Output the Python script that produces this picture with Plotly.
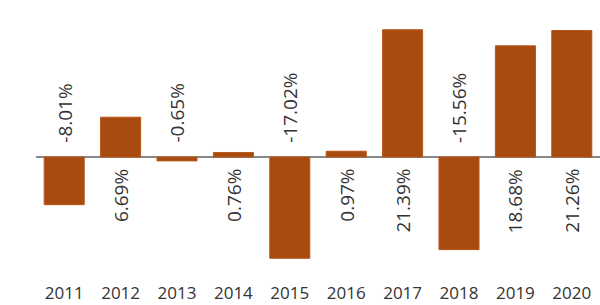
import plotly.graph_objects as go

years = ["2011", "2012", "2013", "2014", "2015", "2016", "2017", "2018", "2019", "2020"]
returns = [-8.01, 6.69, -0.65, 0.76, -17.02, 0.97, 21.39, -15.56, 18.68, 21.26]
labels = [f"{v:.2f}%" for v in returns]

bar_color = "#A84B10"
text_color = "#333333"

fig = go.Figure()
fig.add_trace(go.Bar(
    x=years, y=returns,
    marker=dict(color=bar_color, line=dict(color="#B85518", width=1)),
    hoverinfo="skip",
))

for i, (v, lab) in enumerate(zip(returns, labels)):
    if v < 0:
        fig.add_annotation(x=i, y=0, text=lab, textangle=-90, showarrow=False,
                           yanchor="bottom", xanchor="center", yshift=12,
                           font=dict(family="Open Sans", size=19, color=text_color))
    else:
        fig.add_annotation(x=i, y=0, text=lab, textangle=-90, showarrow=False,
                           yanchor="top", xanchor="center", yshift=-10,
                           font=dict(family="Open Sans", size=19, color=text_color))

fig.update_layout(
    width=600, height=305,
    margin=dict(l=36, r=0, t=0, b=30),
    plot_bgcolor="white", paper_bgcolor="white",
    bargap=0.29,
    showlegend=False,
    xaxis=dict(type="category", range=[-0.5, len(years) - 0.5],
               showgrid=False, showline=False, ticks="", ticklabelstandoff=6,
               tickfont=dict(family="Open Sans", size=17, color=text_color)),
    yaxis=dict(range=[-19.83, 26.39], showgrid=False, showticklabels=False,
               zeroline=True, zerolinecolor="#888888", zerolinewidth=2),
)

fig.write_html("out.html")
